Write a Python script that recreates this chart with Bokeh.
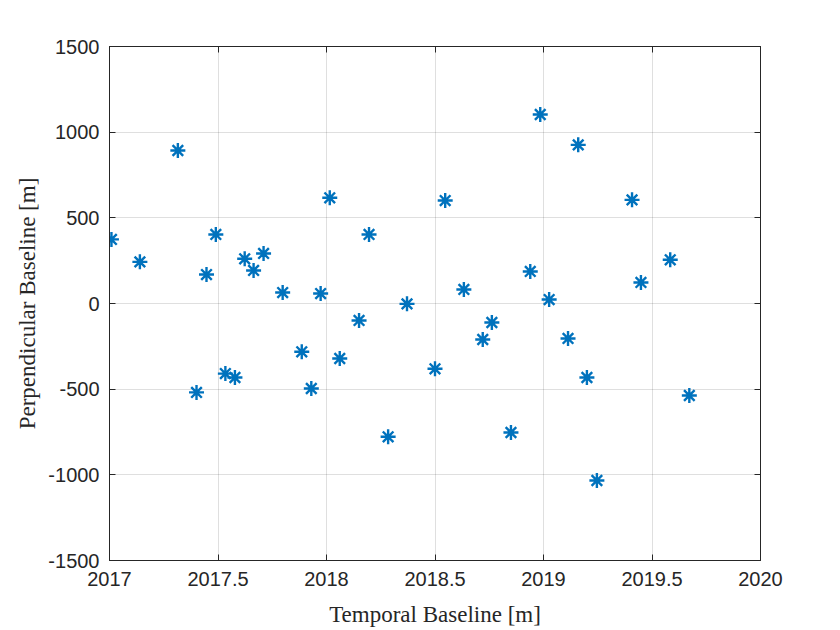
from bokeh.plotting import figure
from bokeh.models import LinearAxis, FixedTicker, Range1d
from bokeh.embed import file_html
from bokeh.resources import INLINE

# Data
temporal_baseline = [2017.009, 2017.140, 2017.315, 2017.401, 2017.447, 2017.490, 2017.534,
                     2017.578, 2017.623, 2017.664, 2017.710, 2017.798, 2017.886, 2017.930,
                     2017.973, 2018.015, 2018.061, 2018.150, 2018.196, 2018.284, 2018.371,
                     2018.500, 2018.547, 2018.633, 2018.720, 2018.762, 2018.850, 2018.939,
                     2018.985, 2019.026, 2019.113, 2019.160, 2019.200, 2019.246, 2019.408,
                     2019.449, 2019.584, 2019.672]
perpendicular_baseline = [374, 243, 893, -519, 169, 403, -409,
                          -432, 261, 193, 292, 64, -282, -496,
                          58, 617, -321, -99, 403, -778, -2,
                          -381, 601, 82, -210, -111, -753, 187,
                          1103, 23, -204, 926, -432, -1033, 605,
                          123, 255, -537]

x_ticks = [2017, 2017.5, 2018, 2018.5, 2019, 2019.5, 2020]
x_tick_labels = ["2017", "2017.5", "2018", "2018.5", "2019", "2019.5", "2020"]
y_ticks = [-1500, -1000, -500, 0, 500, 1000, 1500]
y_tick_labels = ["-1500", "-1000", "-500", "0", "500", "1000", "1500"]

x_label = "Temporal Baseline [m]"
y_label = "Perpendicular Baseline [m]"

AX = "#262626"
MARK = "#0072BD"

p = figure(width=820, height=630, output_backend="svg", toolbar_location=None,
           x_range=Range1d(2017, 2020), y_range=Range1d(-1500, 1500),
           min_border_left=109, min_border_right=60, min_border_top=46, min_border_bottom=70,
           background_fill_color="white", border_fill_color="white")

p.outline_line_color = AX
p.outline_line_width = 1

xt = FixedTicker(ticks=x_ticks)
yt = FixedTicker(ticks=y_ticks)

for ax, ticks, labels in ((p.xaxis[0], x_ticks, x_tick_labels), (p.yaxis[0], y_ticks, y_tick_labels)):
    ax.ticker = FixedTicker(ticks=ticks)
    ax.major_label_overrides = {t: l for t, l in zip(ticks, labels)}
    ax.major_tick_in = 6
    ax.major_tick_out = 0
    ax.minor_tick_line_color = None
    ax.axis_line_color = AX
    ax.major_tick_line_color = AX
    ax.major_label_text_color = AX
    ax.major_label_text_font = "Liberation Sans"
    ax.major_label_text_font_size = "20px"
    ax.axis_label_text_font = "Liberation Serif"
    ax.axis_label_text_font_size = "23px"
    ax.axis_label_text_font_style = "normal"
    ax.axis_label_text_color = AX

p.xaxis[0].axis_label = x_label
p.yaxis[0].axis_label = y_label
p.xaxis[0].major_label_standoff = 11
p.yaxis[0].major_label_standoff = 10
p.xaxis[0].axis_label_standoff = 13
p.yaxis[0].axis_label_standoff = 5

for loc, ticks in (("above", x_ticks), ("right", y_ticks)):
    a = LinearAxis(ticker=FixedTicker(ticks=ticks), major_tick_in=6, major_tick_out=0,
                   minor_tick_line_color=None, axis_line_color=AX, major_tick_line_color=AX,
                   major_label_text_font_size="0px", major_label_standoff=0)
    a.major_label_overrides = {t: "" for t in ticks}
    p.add_layout(a, loc)

p.xgrid.ticker = xt
p.ygrid.ticker = yt
p.xgrid.grid_line_color = AX
p.ygrid.grid_line_color = AX
p.xgrid.grid_line_alpha = 0.15
p.ygrid.grid_line_alpha = 0.15

p.scatter(temporal_baseline, perpendicular_baseline, marker="asterisk", size=15,
          line_color=MARK, line_width=2.4)

open("out.html", "w").write(file_html(p, INLINE))
